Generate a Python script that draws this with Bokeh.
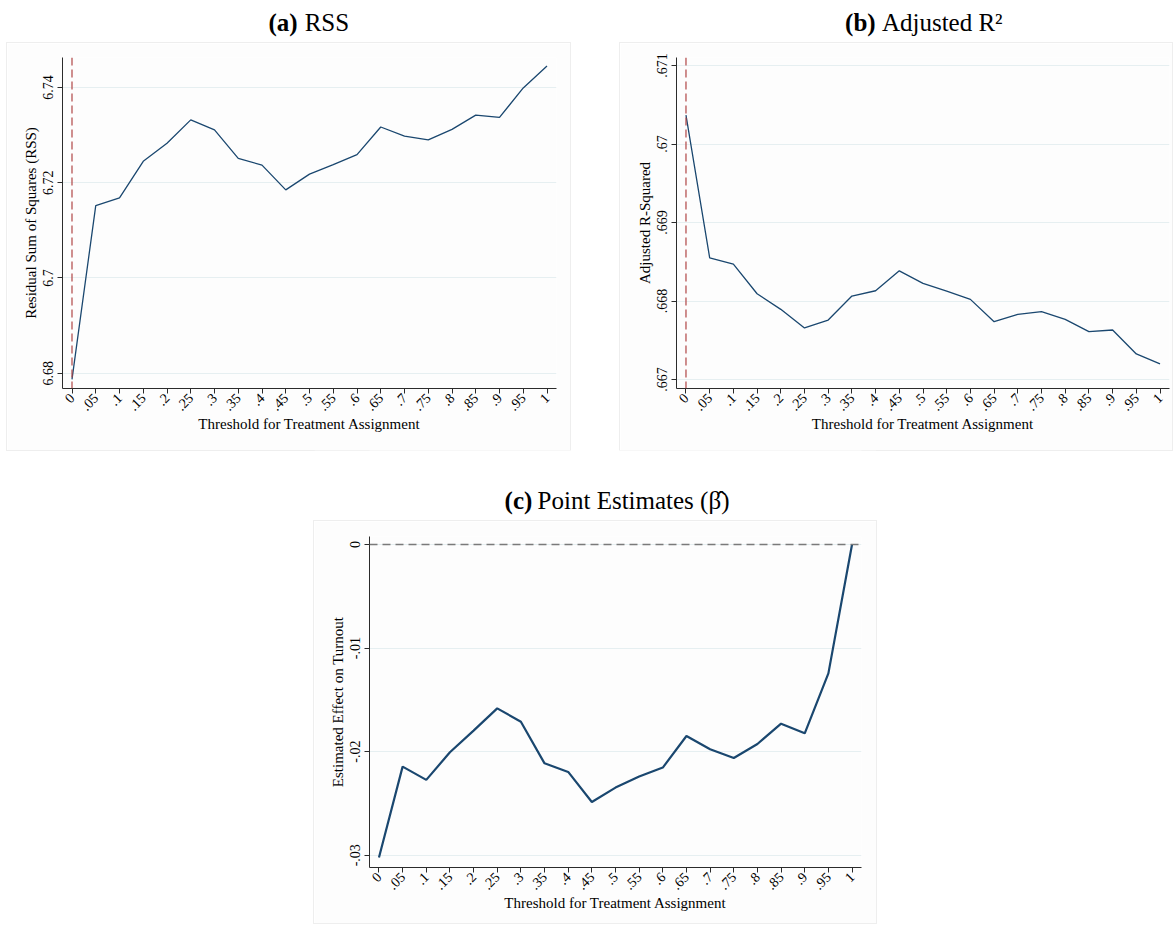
import math
from bokeh.plotting import figure
from bokeh.layouts import row, column, Spacer
from bokeh.models import Range1d, FixedTicker, Span
from bokeh.core.properties import value
from bokeh.embed import file_html
from bokeh.resources import INLINE

# ---------------- data ----------------
thresholds = [0.0, 0.05, 0.1, 0.15, 0.2, 0.25, 0.3, 0.35, 0.4, 0.45, 0.5,
              0.55, 0.6, 0.65, 0.7, 0.75, 0.8, 0.85, 0.9, 0.95, 1.0]
x_tick_labels = ["0", ".05", ".1", ".15", ".2", ".25", ".3", ".35", ".4", ".45", ".5",
                 ".55", ".6", ".65", ".7", ".75", ".8", ".85", ".9", ".95", "1"]

rss = [6.6787, 6.7152, 6.7168, 6.7245, 6.7283, 6.7332, 6.7311, 6.7251, 6.7237, 6.7185, 6.7218,
       6.7238, 6.7259, 6.7317, 6.7298, 6.7290, 6.7312, 6.7342, 6.7337, 6.7399, 6.7445]
adj_r2 = [0.670368, 0.668550, 0.668470, 0.668093, 0.667894, 0.667657, 0.667758, 0.668064,
          0.668131, 0.668385, 0.668225, 0.668127, 0.668021, 0.667737, 0.667831, 0.667864,
          0.667767, 0.667610, 0.667631, 0.667326, 0.667199]
beta = [-0.03023, -0.02145, -0.02273, -0.02006, -0.01797, -0.01582, -0.01711, -0.02113,
        -0.02196, -0.02486, -0.02347, -0.02241, -0.02154, -0.01849, -0.01977, -0.02061,
        -0.01926, -0.01730, -0.01823, -0.01244, 0.0]

rss_ticks = [6.68, 6.70, 6.72, 6.74]
rss_tick_labels = ["6.68", "6.7", "6.72", "6.74"]
r2_ticks = [0.667, 0.668, 0.669, 0.670, 0.671]
r2_tick_labels = [".667", ".668", ".669", ".67", ".671"]
beta_ticks = [-0.03, -0.02, -0.01, 0.0]
beta_tick_labels = ["-.03", "-.02", "-.01", "0"]

ref_threshold = 0.0
ref_effect = 0.0

x_title = "Threshold for Treatment Assignment"

# ---------------- style ----------------
FONT = "Liberation Serif"
SERIF = value(FONT)
LINE = "#1a476f"
GRID = "#e6eff1"
AXIS = "#2b2b2b"
PANEL_BG = "#fdfdfd"


def make_title(w, h, parts):
    t = figure(width=w, height=h, x_range=Range1d(0, w), y_range=Range1d(h, 0),
               x_axis_type=None, y_axis_type=None, toolbar_location=None,
               output_backend="svg", min_border=0)
    t.outline_line_color = None
    t.background_fill_color = "white"
    t.border_fill_color = "white"
    for txt, x, y, size, style, align in parts:
        t.text(x=[x], y=[y], text=[txt], text_font=SERIF, text_font_size=size,
               text_font_style=style, text_align=align, text_baseline="alphabetic",
               text_color="black")
    return t


def make_panel(w, h, borders, yr, yticks, ylabels, ys, ylabel, lw):
    left, right, top, bottom = borders
    p = figure(width=w, height=h, x_range=Range1d(-0.02, 1.02), y_range=Range1d(*yr),
               toolbar_location=None, output_backend="svg",
               min_border_left=left, min_border_right=right,
               min_border_top=top, min_border_bottom=bottom)
    p.background_fill_color = PANEL_BG
    p.border_fill_color = PANEL_BG
    p.outline_line_color = None
    p.styles = {"box-shadow": "0 0 0 1px #eeeeee"}

    p.xgrid.visible = False
    p.yaxis.ticker = FixedTicker(ticks=yticks)
    p.ygrid.ticker = FixedTicker(ticks=yticks)
    p.ygrid.grid_line_color = GRID
    p.ygrid.grid_line_width = 1
    p.xaxis.ticker = FixedTicker(ticks=thresholds)
    p.xaxis.major_label_overrides = dict(zip(thresholds, x_tick_labels))
    p.yaxis.major_label_overrides = dict(zip(yticks, ylabels))

    for ax in (p.xaxis[0], p.yaxis[0]):
        ax.axis_line_color = AXIS
        ax.major_tick_line_color = AXIS
        ax.minor_tick_line_color = None
        ax.major_tick_in = 0
        ax.major_tick_out = 5
        ax.major_label_text_font = FONT
        ax.major_label_text_font_size = "14px"
        ax.major_label_text_color = "black"
        ax.axis_label_text_font = FONT
        ax.axis_label_text_font_size = "15px"
        ax.axis_label_text_font_style = "normal"
        ax.axis_label_text_color = "black"

    p.xaxis.major_label_standoff = 2
    p.xaxis.axis_label_standoff = -2
    p.yaxis.major_label_standoff = 4
    p.yaxis.axis_label_standoff = 2

    p.xaxis.major_label_orientation = math.pi / 4
    p.yaxis.major_label_orientation = "vertical"
    p.xaxis.axis_label = x_title
    p.yaxis.axis_label = ylabel

    p.line(thresholds, ys, line_color=LINE, line_width=lw)
    return p


# ---------------- panel (a) ----------------
ta = make_title(563, 43, [("(a)", 268, 21.5, "25px", "bold", "right"),
                          ("RSS", 276, 21.5, "25px", "normal", "left")])
pa = make_panel(563, 407, (55, 14, 14, 62), (6.67679, 6.74629), rss_ticks, rss_tick_labels,
                rss, "Residual Sum of Squares (RSS)", 1.3)
pa.add_layout(Span(location=ref_threshold, dimension="height", line_color="#b04545",
                   line_dash="8 4", line_width=1.2))

# ---------------- panel (b) ----------------
tb = make_title(552, 43, [("(b)", 223, 21.5, "25px", "bold", "right"),
                          ("Adjusted R\u00b2", 230, 21.5, "25px", "normal", "left")])
pb = make_panel(552, 407, (56, 3, 14, 62), (0.666886, 0.671102), r2_ticks, r2_tick_labels,
                adj_r2, "Adjusted R-Squared", 1.3)
pb.add_layout(Span(location=ref_threshold, dimension="height", line_color="#b04545",
                   line_dash="8 4", line_width=1.2))

# ---------------- panel (c) ----------------
tc = make_title(562, 71, [("(c)", 186, 50, "25px", "bold", "right"),
                          ("Point Estimates (\u03b2\u0302)", 192, 50, "25px", "normal", "left")])
pc = make_panel(562, 402, (55, 15, 15, 56), (-0.031187, 0.00077), beta_ticks, beta_tick_labels,
                beta, "Estimated Effect on Turnout", 2.2)
pc.add_layout(Span(location=ref_effect, dimension="width", line_color="#7a7a7a",
                   line_dash="8 5", line_width=1.3))

top = row(Spacer(width=7, height=450), column(ta, pa), Spacer(width=50, height=450),
          column(tb, pb))
bottom = row(Spacer(width=314, height=473), column(tc, pc))
layout = column(top, bottom)

open("out.html", "w").write(file_html(layout, INLINE))
